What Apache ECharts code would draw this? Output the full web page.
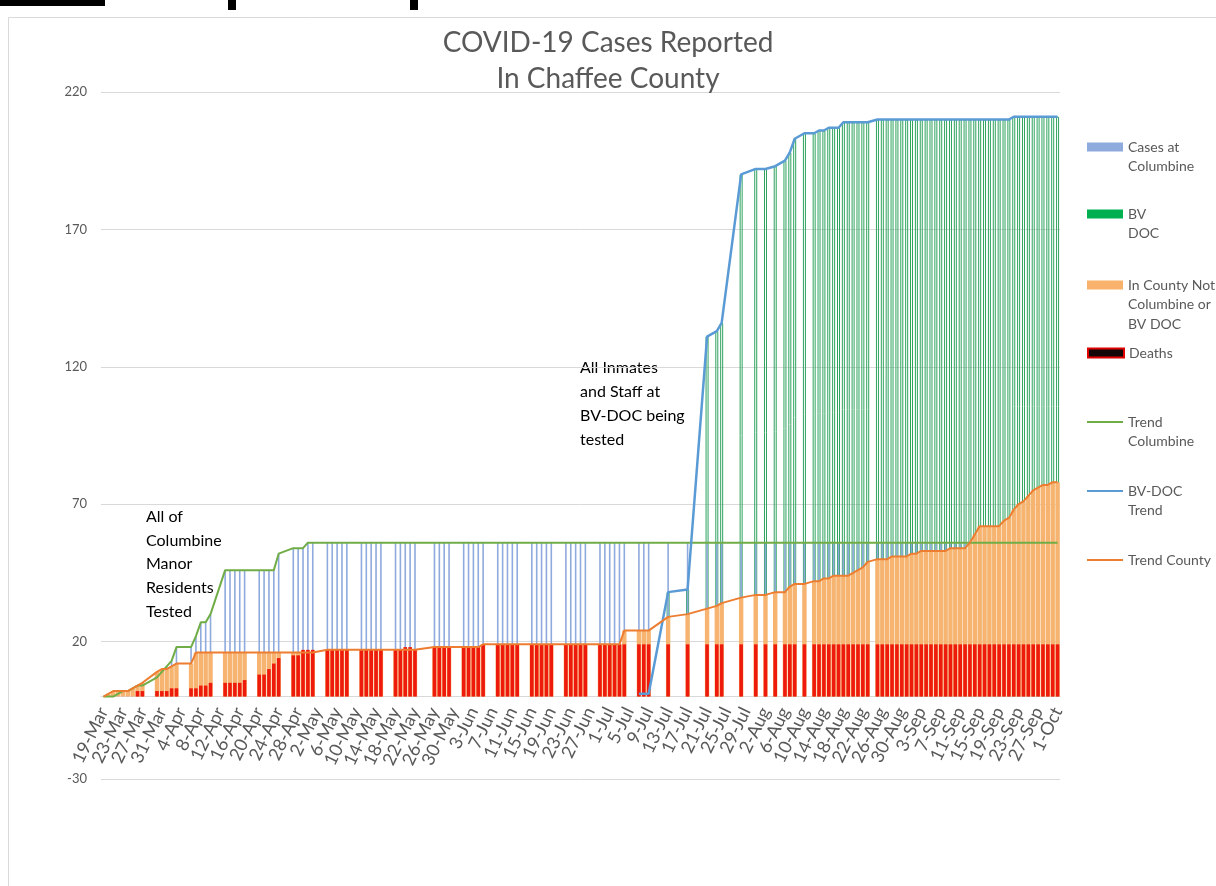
<!DOCTYPE html>
<html>
<head>
<meta charset="utf-8">
<script src="https://cdn.jsdelivr.net/npm/echarts@6.0.0/dist/echarts.min.js"></script>
<style>
  html, body { margin: 0; background: #fff; }
  #chart { width: 1216px; height: 886px; }
</style>
</head>
<body>
<div id="chart"></div>
<script>
// days on which a report was published
const reportDays = [
  '19-Mar','20-Mar','21-Mar','22-Mar','23-Mar','24-Mar','25-Mar','26-Mar','27-Mar',
  '30-Mar','31-Mar','1-Apr','2-Apr','3-Apr',
  '6-Apr','7-Apr','8-Apr','9-Apr','10-Apr',
  '13-Apr','14-Apr','15-Apr','16-Apr','17-Apr',
  '20-Apr','21-Apr','22-Apr','23-Apr','24-Apr',
  '27-Apr','28-Apr','29-Apr','30-Apr','1-May',
  '4-May','5-May','6-May','7-May','8-May',
  '11-May','12-May','13-May','14-May','15-May',
  '18-May','19-May','20-May','21-May','22-May',
  '26-May','27-May','28-May','29-May',
  '1-Jun','2-Jun','3-Jun','4-Jun','5-Jun',
  '8-Jun','9-Jun','10-Jun','11-Jun','12-Jun',
  '15-Jun','16-Jun','17-Jun','18-Jun','19-Jun',
  '22-Jun','23-Jun','24-Jun','25-Jun','26-Jun',
  '29-Jun','30-Jun','1-Jul','2-Jul','3-Jul','4-Jul',
  '7-Jul','8-Jul','9-Jul',
  '13-Jul','17-Jul','21-Jul','23-Jul','24-Jul','28-Jul',
  '31-Jul','2-Aug','4-Aug','6-Aug','7-Aug','8-Aug','10-Aug',
  '12-Aug','13-Aug','14-Aug','15-Aug','16-Aug','17-Aug','18-Aug','19-Aug','20-Aug','21-Aug','22-Aug','23-Aug',
  '25-Aug','26-Aug','27-Aug','28-Aug','29-Aug','30-Aug','31-Aug',
  '1-Sep','2-Sep','3-Sep','4-Sep','5-Sep','6-Sep','7-Sep','8-Sep','9-Sep','10-Sep',
  '11-Sep','12-Sep','13-Sep','14-Sep','15-Sep','16-Sep','17-Sep','18-Sep','19-Sep','20-Sep',
  '21-Sep','22-Sep','23-Sep','24-Sep','25-Sep','26-Sep','27-Sep','28-Sep','29-Sep','30-Sep',
  '1-Oct'
];

// Cases at Columbine (cumulative)
const columbine = [
  0,0,0,1,2,2,3,4,4,
  7,9,11,13,18,
  18,22,27,27,30,
  46,46,46,46,46,
  46,46,46,46,52,
  54,54,54,56,56,
  56,56,56,56,56,
  56,56,56,56,56,
  56,56,56,56,56,
  56,56,56,56,
  56,56,56,56,56,
  56,56,56,56,56,
  56,56,56,56,56,
  56,56,56,56,56,
  56,56,56,56,56,56,
  56,56,56,
  56,56,56,56,56,56,
  56,56,56,56,56,56,56,
  56,56,56,56,56,56,56,56,56,56,56,56,
  56,56,56,56,56,56,56,
  56,56,56,56,56,56,56,56,56,56,
  56,56,56,56,56,56,56,56,56,56,
  56,56,56,56,56,56,56,56,56,56,
  56
];

// BV DOC (cumulative)
const bvDoc = [
  null,null,null,null,null,null,null,null,null,
  null,null,null,null,null,
  null,null,null,null,null,
  null,null,null,null,null,
  null,null,null,null,null,
  null,null,null,null,null,
  null,null,null,null,null,
  null,null,null,null,null,
  null,null,null,null,null,
  null,null,null,null,
  null,null,null,null,null,
  null,null,null,null,null,
  null,null,null,null,null,
  null,null,null,null,null,
  null,null,null,null,null,null,
  1,1,1,
  38,39,131,133,136,190,
  192,192,193,195,198,203,205,
  205,206,206,207,207,207,209,209,209,209,209,209,
  210,210,210,210,210,210,210,
  210,210,210,210,210,210,210,210,210,210,
  210,210,210,210,210,210,210,210,210,210,
  210,211,211,211,211,211,211,211,211,211,
  211
];

// In County Not Columbine or BV DOC (cumulative)
const county = [
  0,1,2,2,2,2,3,4,5,
  9,10,10,11,12,
  12,16,16,16,16,
  16,16,16,16,16,
  16,16,16,16,16,
  16,16,16,16,16,
  17,17,17,17,17,
  17,17,17,17,17,
  17,17,17,17,17,
  18,18,18,18,
  18,18,18,18,19,
  19,19,19,19,19,
  19,19,19,19,19,
  19,19,19,19,19,
  19,19,19,19,19,24,
  24,24,24,
  29,30,32,33,34,36,
  37,37,38,38,40,41,41,
  42,42,43,43,44,44,44,44,45,46,47,49,
  50,50,50,51,51,51,51,
  52,52,53,53,53,53,53,53,54,54,
  54,54,56,59,62,62,62,62,62,64,
  65,68,70,71,73,75,76,77,77,78,
  78
];

// Deaths
const deaths = [
  null,null,null,null,null,null,null,2,2,
  2,2,2,3,3,
  3,3,4,4,5,
  5,5,5,5,6,
  8,8,10,12,14,
  15,15,17,17,17,
  17,17,17,17,17,
  17,17,17,17,17,
  17,17,18,18,17,
  18,18,18,18,
  18,18,18,18,19,
  19,19,19,19,19,
  19,19,19,19,19,
  19,19,19,19,19,
  19,19,19,19,19,19,
  19,19,19,
  19,19,19,19,19,19,
  19,19,19,19,19,19,19,
  19,19,19,19,19,19,19,19,19,19,19,19,
  19,19,19,19,19,19,19,
  19,19,19,19,19,19,19,19,19,19,
  19,19,19,19,19,19,19,19,19,19,
  19,19,19,19,19,19,19,19,19,19,
  19
];

// every calendar day from the first to the last report (category axis)
const monthNames = ['Jan','Feb','Mar','Apr','May','Jun','Jul','Aug','Sep','Oct','Nov','Dec'];
const days = [];
for (let t = Date.UTC(2020, 2, 19); t <= Date.UTC(2020, 9, 1); t += 86400000) {
  const dt = new Date(t);
  days.push(dt.getUTCDate() + '-' + monthNames[dt.getUTCMonth()]);
}
const pos = {};
reportDays.forEach((d, i) => { pos[d] = i; });
const onDays = arr => days.map(d => (d in pos ? arr[pos[d]] : null));

const FONT = 'Lato, "Open Sans", sans-serif';
const GREY = '#595959';
const LH = 19.5;
const LABEL_STEP = 4;   // a date label every 4 days

// legend: name, shown text, first-line centre y, icon colour, is line
const legendSpec = [
  ['Cases at Columbine', 'Cases at\nColumbine', 147, {color: '#8faadc'}, false],
  ['BV DOC', 'BV\nDOC', 214, {color: '#00b050', borderWidth: 0}, false],
  ['In County', 'In County Not\nColumbine or\nBV DOC', 285, {color: '#f9b26c'}, false],
  ['Deaths', 'Deaths', 353, {color: '#140606', borderColor: '#e00000', borderWidth: 2}, false],
  ['Trend Columbine', 'Trend\nColumbine', 422, {color: '#70ad47'}, true],
  ['BV-DOC Trend', 'BV-DOC\nTrend', 491, {color: '#5b9bd5'}, true],
  ['Trend County', 'Trend County', 560, {color: '#ed7d31'}, true]
];

const xBase = {type: 'category', data: days, boundaryGap: true};

const chart = echarts.init(document.getElementById('chart'));
chart.setOption({
  animation: false,
  backgroundColor: '#fff',
  title: {
    text: 'COVID-19 Cases Reported\nIn Chaffee County',
    left: 'center', top: 20,
    textStyle: {fontFamily: FONT, fontSize: 28, fontWeight: 'normal', color: GREY, lineHeight: 36}
  },
  grid: {left: 101, right: 156, top: 92, bottom: 107},
  xAxis: [
    {...xBase,
      offset: -82.5,
      axisLine: {onZero: false, lineStyle: {color: '#d9d9d9'}},
      axisTick: {interval: LABEL_STEP - 1, alignWithLabel: true, length: 5, lineStyle: {color: '#d9d9d9'}},
      // interval 0 + blanking keeps ECharts from dropping the end labels
      axisLabel: {interval: 0, rotate: 64, margin: 12, color: GREY, fontSize: 18, fontFamily: FONT,
        formatter: (v, i) => (i % LABEL_STEP === 0 ? v : '')}
    },
    {...xBase, show: false},
    {...xBase, show: false},
    {...xBase, show: false}
  ],
  yAxis: {
    type: 'value', min: -30, max: 220, interval: 50,
    axisLine: {show: false}, axisTick: {show: false},
    splitLine: {lineStyle: {color: '#d9d9d9'}},
    axisLabel: {color: GREY, fontSize: 13, fontFamily: FONT, margin: 14}
  },
  legend: legendSpec.map(([name, text, cy, style, isLine]) => {
    const n = text.split('\n').length;
    // blank lines in front keep the first text line level with the icon
    const shown = '\n'.repeat(n - 1) + text;
    return {
      data: [{name, icon: 'rect', itemStyle: style}],
      left: 1087, top: cy - (2 * n - 1) * LH / 2, padding: 0,
      itemWidth: 36, itemHeight: isLine ? 2 : 9, selectedMode: false,
      formatter: () => shown,
      textStyle: {color: GREY, fontSize: 14, fontFamily: FONT, lineHeight: LH}
    };
  }),
  series: [
    {name: 'BV DOC', type: 'bar', xAxisIndex: 1, data: onDays(bvDoc), barWidth: 3,
      itemStyle: {color: 'rgba(255,255,255,0)', borderColor: '#2ea35e', borderWidth: 1}},
    {name: 'Cases at Columbine', type: 'bar', xAxisIndex: 2, data: onDays(columbine), barWidth: 1.6,
      itemStyle: {color: '#8faadc'}},
    {name: 'In County', type: 'bar', xAxisIndex: 0, data: onDays(county), barWidth: 4.4,
      itemStyle: {color: '#f6b470'}},
    {name: 'Deaths', type: 'bar', xAxisIndex: 3, data: onDays(deaths), barWidth: 3.6,
      itemStyle: {color: '#ee1a0c'}},
    {name: 'Trend Columbine', type: 'line', data: onDays(columbine), connectNulls: true, symbol: 'none',
      itemStyle: {color: '#70ad47'}, lineStyle: {color: '#70ad47', width: 2}},
    {name: 'BV-DOC Trend', type: 'line', data: onDays(bvDoc), connectNulls: true, symbol: 'none',
      itemStyle: {color: '#5b9bd5'}, lineStyle: {color: '#5b9bd5', width: 2.5}},
    {name: 'Trend County', type: 'line', data: onDays(county), connectNulls: true, symbol: 'none',
      itemStyle: {color: '#ed7d31'}, lineStyle: {color: '#ed7d31', width: 2}}
  ],
  graphic: [
    {type: 'rect', silent: true, shape: {x: 8.5, y: 17.5, width: 1400, height: 1000},
      style: {fill: 'none', stroke: '#d9d9d9', lineWidth: 1}},
    {type: 'rect', silent: true, shape: {x: 0, y: 0, width: 105, height: 6}, style: {fill: '#000'}},
    {type: 'rect', silent: true, shape: {x: 228, y: 0, width: 8, height: 10}, style: {fill: '#000'}},
    {type: 'rect', silent: true, shape: {x: 410, y: 0, width: 8, height: 10}, style: {fill: '#000'}},
    {type: 'text', silent: true, left: 146, top: 505,
      style: {text: 'All of\nColumbine\nManor\nResidents\nTested', font: '16px ' + FONT, fill: '#000', lineHeight: 23.7}},
    {type: 'text', silent: true, left: 580, top: 356,
      style: {text: 'All Inmates\nand Staff at\nBV-DOC being\ntested', font: '16px ' + FONT, fill: '#000', lineHeight: 24}}
  ]
});
</script>
</body>
</html>
